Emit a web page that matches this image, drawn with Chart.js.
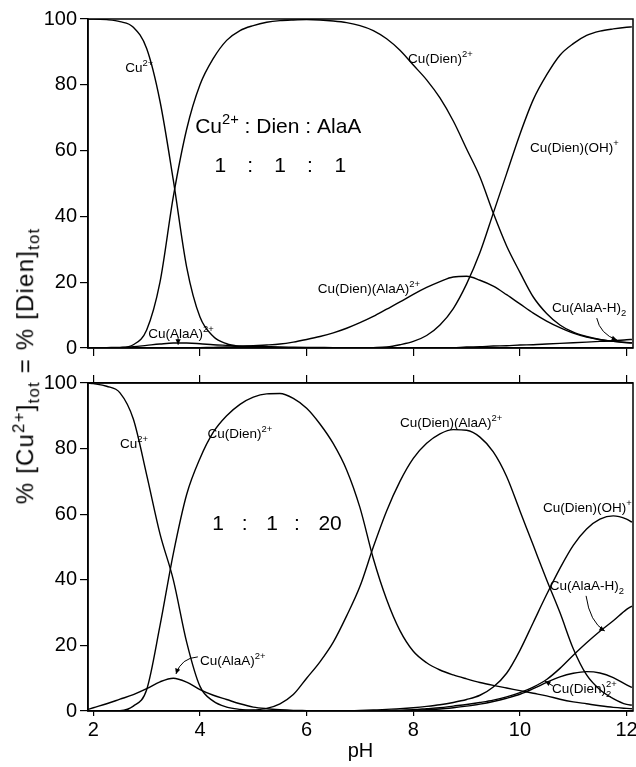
<!DOCTYPE html>
<html>
<head>
<meta charset="utf-8">
<script src="https://cdn.jsdelivr.net/npm/chart.js@4"></script>
<style>
body { margin: 0; background: #fff; }
#wrap { position: relative; width: 636px; height: 767px; overflow: hidden; font-family: "Liberation Sans", Arial, sans-serif; }
#top { position: absolute; left: 0; top: 0; }
#bot { position: absolute; left: 0; top: 360px; }
#ytitle { position: absolute; left: 27px; top: 366px; transform: translate(-50%, -50%) rotate(-90deg);
  white-space: nowrap; font-size: 24px; letter-spacing: 1.2px; line-height: 1; color: #000; }
#ytitle sup, #ytitle sub { font-size: 70%; }
</style>
</head>
<body>
<div id="wrap">
  <canvas id="top" width="636" height="360"></canvas>
  <canvas id="bot" width="636" height="407"></canvas>
  <div id="ytitle">% [Cu<sup>2+</sup>]<sub>tot</sub> = % [Dien]<sub>tot</sub></div>
</div>
<script>
// pH grid shared by all species
const pH = [1.9,
  2, 2.25, 2.5, 2.75,  3, 3.25, 3.5, 3.75,  4, 4.25, 4.5, 4.75,  5, 5.25, 5.5, 5.75,
  6, 6.25, 6.5, 6.75,  7, 7.25, 7.5, 7.75,  8, 8.25, 8.5, 8.75,  9, 9.25, 9.5, 9.75,
  10, 10.25, 10.5, 10.75,  11, 11.25, 11.5, 11.75,  12, 12.1];
const xTicks = [2, 4, 6, 8, 10, 12];
const yTicks = [0, 20, 40, 60, 80, 100];

// upper panel, 1 : 1 : 1
const topCu = [100,
  100, 99.8, 99.2, 97.5,  91, 75, 51, 24.6,  9.4, 3.5, 1.3, 0.5,  0.2, 0.1, 0, 0,
  0, 0, 0, 0,  0, 0, 0, 0,  0, 0, 0, 0,  0, 0, 0, 0,
  0, 0, 0, 0,  0, 0, 0, 0,  0, 0];
const topDien = [0,
  0, 0, 0.1, 1,  5.5, 20, 46, 66.5,  80, 88, 93.5, 96.5,  98, 99, 99.5, 99.7,
  99.8, 99.7, 99.4, 98.9,  98, 96.5, 94, 90.5,  86, 81.5, 76, 69,  60.5, 52, 41, 31,
  23, 15.5, 10.5, 7,  4.8, 3.5, 2.6, 2,  1.6, 1.5];
const topDienOH = [0,
  0, 0, 0, 0,  0, 0, 0, 0,  0, 0, 0, 0,  0, 0, 0, 0,
  0, 0, 0, 0,  0, 0.1, 0.3, 1,  2, 3.8, 7, 12,  19.5, 29, 41, 53,
  65, 75.5, 83, 89,  92.5, 95, 96.3, 97,  97.5, 97.6];
const topDienAla = [0,
  0, 0, 0, 0,  0, 0, 0, 0,  0.1, 0.2, 0.3, 0.5,  0.7, 0.9, 1.2, 1.8,
  2.6, 3.5, 4.6, 6,  7.7, 9.6, 11.8, 14,  16.3, 18.4, 20.2, 21.6,  21.8, 20.6, 18.8, 16.2,
  13.4, 10.6, 8.2, 6.2,  4.5, 3.3, 2.5, 2,  1.7, 1.6];
const topAla = [0,
  0, 0.1, 0.2, 0.4,  0.8, 1.2, 1.5, 1.5,  1.3, 1, 0.8, 0.6,  0.5, 0.4, 0.3, 0.25,
  0.2, 0.15, 0.1, 0.1,  0.1, 0, 0, 0,  0, 0, 0, 0,  0, 0, 0, 0,
  0, 0, 0, 0,  0, 0, 0, 0,  0, 0];
const topAlaH = [0,
  0, 0, 0, 0,  0, 0, 0, 0,  0, 0, 0, 0,  0, 0, 0, 0,
  0, 0, 0, 0,  0, 0, 0, 0,  0, 0, 0, 0.1,  0.3, 0.4, 0.6, 0.7,
  0.9, 1, 1.2, 1.4,  1.6, 1.8, 2, 2.2,  2.5, 2.6];

// lower panel, 1 : 1 : 20
const botCu = [100,
  99.8, 99, 97, 89,  72, 54, 40, 21,  7.5, 3, 1.2, 0.5,  0.2, 0.1, 0, 0,
  0, 0, 0, 0,  0, 0, 0, 0,  0, 0, 0, 0,  0, 0, 0, 0,
  0, 0, 0, 0,  0, 0, 0, 0,  0, 0];
const botDien = [0,
  0, 0, 0.1, 1.5,  6.5, 26, 48, 66,  77, 85, 90, 93.5,  95.7, 96.7, 96.8, 95.3,
  92.3, 87.5, 81.5, 73.5,  62, 46.5, 34, 24.5,  18.2, 14.7, 12.5, 11,  9.8, 8.7, 7.8, 7,
  6.2, 5.4, 4.6, 3.6,  2.8, 2.2, 1.6, 1.1,  0.8, 0.7];
const botAla = [0.5,
  1, 2.2, 3.6, 5,  6.8, 8.9, 10, 8.8,  6.5, 4.8, 3.5, 2.2,  1.2, 0.7, 0.4, 0.2,
  0.1, 0, 0, 0,  0, 0, 0, 0,  0, 0, 0, 0,  0, 0, 0, 0,
  0, 0, 0, 0,  0, 0, 0, 0,  0, 0];
const botDienAla = [0,
  0, 0, 0, 0,  0, 0, 0, 0,  0, 0, 0, 0.1,  0.3, 0.8, 2.2, 5,
  10, 15, 21, 29,  38, 50, 61, 70,  77, 81.6, 84.5, 85.8,  85.6, 83.5, 79, 71.5,
  61, 50.5, 40, 30,  19, 11, 6.5, 3.8,  2, 1.8];
const botDienOH = [0,
  0, 0, 0, 0,  0, 0, 0, 0,  0, 0, 0, 0,  0, 0, 0, 0,
  0, 0, 0, 0,  0.2, 0.3, 0.5, 0.7,  1, 1.4, 1.9, 2.6,  3.5, 4.8, 7.3, 11.5,
  18.5, 27, 35.5, 43.5,  50.5, 55.5, 58.5, 59.5,  58.5, 57.6];
const botAlaH = [0,
  0, 0, 0, 0,  0, 0, 0, 0,  0, 0, 0, 0,  0, 0, 0, 0,
  0, 0, 0, 0,  0, 0, 0.1, 0.2,  0.4, 0.7, 1, 1.5,  2, 2.6, 3.3, 4.3,
  5.6, 7.3, 9.6, 13,  17, 20.8, 24.3, 27.5,  31, 32];
const botDien2 = [0,
  0, 0, 0, 0,  0, 0, 0, 0,  0, 0, 0, 0,  0, 0, 0, 0,
  0, 0, 0, 0,  0, 0, 0, 0.1,  0.2, 0.4, 0.6, 1,  1.5, 2.1, 2.9, 3.9,
  5.1, 6.8, 8.7, 10.4,  11.5, 12, 11.6, 10.2,  8, 7.2];

const FONT = '"Liberation Sans", Arial, sans-serif';

function series(vals) {
  return {
    data: pH.map((x, i) => ({ x: x, y: vals[i] })),
    borderColor: '#000', borderWidth: 1.4, pointRadius: 0,
    cubicInterpolationMode: 'monotone', fill: false
  };
}

// text with sup / sub parts; third item true = do not advance
function rich(ctx, x, y, parts, size, align) {
  const w = [];
  let total = 0;
  parts.forEach(p => {
    ctx.font = (p[1] ? size * 0.7 : size) + 'px ' + FONT;
    const m = ctx.measureText(p[0]).width;
    w.push(m);
    if (!p[2]) total += m;
  });
  let cx = align === 'center' ? x - total / 2 : x;
  parts.forEach((p, i) => {
    ctx.font = (p[1] ? size * 0.7 : size) + 'px ' + FONT;
    const dy = p[1] === 'sup' ? -size * 0.42 : p[1] === 'sub' ? size * 0.32 : 0;
    ctx.fillText(p[0], cx, y + dy);
    if (!p[2]) cx += w[i];
  });
}

function arrow(ctx, a, c, b) {
  ctx.beginPath();
  ctx.moveTo(a[0], a[1]);
  ctx.quadraticCurveTo(c[0], c[1], b[0], b[1]);
  ctx.stroke();
  const ang = Math.atan2(b[1] - c[1], b[0] - c[0]);
  ctx.beginPath();
  ctx.moveTo(b[0], b[1]);
  ctx.lineTo(b[0] - 6 * Math.cos(ang - 0.45), b[1] - 6 * Math.sin(ang - 0.45));
  ctx.lineTo(b[0] - 6 * Math.cos(ang + 0.45), b[1] - 6 * Math.sin(ang + 0.45));
  ctx.closePath();
  ctx.fill();
}

function notes(labels, arrows) {
  return {
    id: 'notes',
    afterDatasetsDraw(chart) {
      const ctx = chart.ctx, a = chart.chartArea;
      const sx = chart.scales.x, sy = chart.scales.y;
      const px = v => [sx.getPixelForValue(v[0]), sy.getPixelForValue(v[1])];
      ctx.save();
      ctx.strokeStyle = '#000';
      ctx.fillStyle = '#000';
      ctx.lineWidth = 1.5;
      ctx.strokeRect(a.left, a.top, a.right - a.left, a.bottom - a.top);
      ctx.textBaseline = 'alphabetic';
      ctx.textAlign = 'left';
      labels.forEach(l => {
        const p = px(l.at);
        rich(ctx, p[0], p[1], l.parts, l.size || 13.5, l.align);
      });
      ctx.lineWidth = 1;
      arrows.forEach(r => arrow(ctx, px(r[0]), px(r[1]), px(r[2])));
      ctx.restore();
    }
  };
}

function xAxis(extra) {
  return Object.assign({
    type: 'linear', min: 1.9, max: 12.12,
    afterBuildTicks: s => { s.ticks = xTicks.map(v => ({ value: v })); },
    grid: { drawOnChartArea: false, drawTicks: true, tickLength: 8, color: '#000', lineWidth: 1.2 },
    border: { display: true, color: '#000', width: 1.5 },
    ticks: { display: false }
  }, extra);
}

const yAxis = {
  min: 0, max: 100,
  afterBuildTicks: s => { s.ticks = yTicks.map(v => ({ value: v })); },
  ticks: { color: '#000', font: { family: FONT, size: 20 }, padding: 3 },
  grid: { drawOnChartArea: false, tickLength: 8, color: '#000', lineWidth: 1.2 },
  border: { color: '#000', width: 1.5 },
  afterFit: s => { s.width = 88; s.paddingTop = 0; s.paddingBottom = 0; }
};

const big = 21;
const topLabels = [
  { at: [2.60, 83.9], parts: [['Cu'], ['2+', 'sup']] },
  { at: [7.90, 86.6], parts: [['Cu(Dien)'], ['2+', 'sup']] },
  { at: [3.91, 65.3], size: big, parts: [['Cu'], ['2+', 'sup'], [' : Dien : AlaA']] },
  { at: [4.38, 53.5], size: big, align: 'center', parts: [['1']] },
  { at: [4.94, 53.5], size: big, align: 'center', parts: [[':']] },
  { at: [5.50, 53.5], size: big, align: 'center', parts: [['1']] },
  { at: [6.06, 53.5], size: big, align: 'center', parts: [[':']] },
  { at: [6.63, 53.5], size: big, align: 'center', parts: [['1']] },
  { at: [10.19, 59.6], parts: [['Cu(Dien)(OH)'], ['+', 'sup']] },
  { at: [6.21, 16.7], parts: [['Cu(Dien)(AlaA)'], ['2+', 'sup']] },
  { at: [3.03, 3.0], parts: [['Cu(AlaA)'], ['2+', 'sup']] },
  { at: [10.60, 10.9], parts: [['Cu(AlaA-H)'], ['2', 'sub']] }
];
const topArrows = [
  [[11.44, 9.1], [11.5, 4.3], [11.82, 2.4]],
  [[3.59, 3.0], [3.59, 2.0], [3.59, 1.0]]
];

const botLabels = [
  { at: [2.50, 80.2], parts: [['Cu'], ['2+', 'sup']] },
  { at: [4.14, 83.2], parts: [['Cu(Dien)'], ['2+', 'sup']] },
  { at: [4.34, 55.2], size: big, align: 'center', parts: [['1']] },
  { at: [4.84, 55.2], size: big, align: 'center', parts: [[':']] },
  { at: [5.35, 55.2], size: big, align: 'center', parts: [['1']] },
  { at: [5.82, 55.2], size: big, align: 'center', parts: [[':']] },
  { at: [6.44, 55.2], size: big, align: 'center', parts: [['20']] },
  { at: [7.75, 86.6], parts: [['Cu(Dien)(AlaA)'], ['2+', 'sup']] },
  { at: [10.43, 60.8], parts: [['Cu(Dien)(OH)'], ['+', 'sup']] },
  { at: [10.56, 36.9], parts: [['Cu(AlaA-H)'], ['2', 'sub']] },
  { at: [4.00, 14.0], parts: [['Cu(AlaA)'], ['2+', 'sup']] },
  { at: [10.60, 5.5], parts: [['Cu(Dien)'], ['2+', 'sup', true], ['2', 'sub']] }
];
const botArrows = [
  [[11.24, 35.1], [11.31, 27.1], [11.59, 24.4]],
  [[3.96, 16.5], [3.65, 16.2], [3.55, 11.3]],
  [[10.62, 7.6], [10.55, 8.4], [10.47, 9.1]]
];

new Chart(document.getElementById('top'), {
  type: 'line',
  data: { datasets: [topCu, topDien, topDienOH, topDienAla, topAla, topAlaH].map(series) },
  options: {
    responsive: false, animation: false,
    layout: { padding: { top: 19, right: 3, bottom: 0, left: 0 } },
    plugins: { legend: { display: false }, tooltip: { enabled: false } },
    scales: {
      x: xAxis({ afterFit: s => { s.height = 12; s.paddingLeft = 0; s.paddingRight = 0; } }),
      y: yAxis
    }
  },
  plugins: [notes(topLabels, topArrows)]
});

new Chart(document.getElementById('bot'), {
  type: 'line',
  data: { datasets: [botCu, botDien, botAla, botDienAla, botDienOH, botAlaH, botDien2].map(series) },
  options: {
    responsive: false, animation: false,
    layout: { padding: { top: 13, right: 3, bottom: 0, left: 0 } },
    plugins: { legend: { display: false }, tooltip: { enabled: false } },
    scales: {
      x: xAxis({
        grid: { drawOnChartArea: false, drawTicks: true, tickLength: 5, color: '#000', lineWidth: 1.2 },
        ticks: { display: true, color: '#000', font: { family: FONT, size: 20 }, padding: 2, maxRotation: 0 },
        title: { display: true, text: 'pH', color: '#000', font: { family: FONT, size: 20 }, padding: { top: 0, bottom: 4 } },
        afterFit: s => { s.height = 56; s.paddingLeft = 0; s.paddingRight = 0; }
      }),
      x2: xAxis({ position: 'top', afterFit: s => { s.height = 10; s.paddingLeft = 0; s.paddingRight = 0; } }),
      y: yAxis
    }
  },
  plugins: [notes(botLabels, botArrows)]
});
</script>
</body>
</html>
